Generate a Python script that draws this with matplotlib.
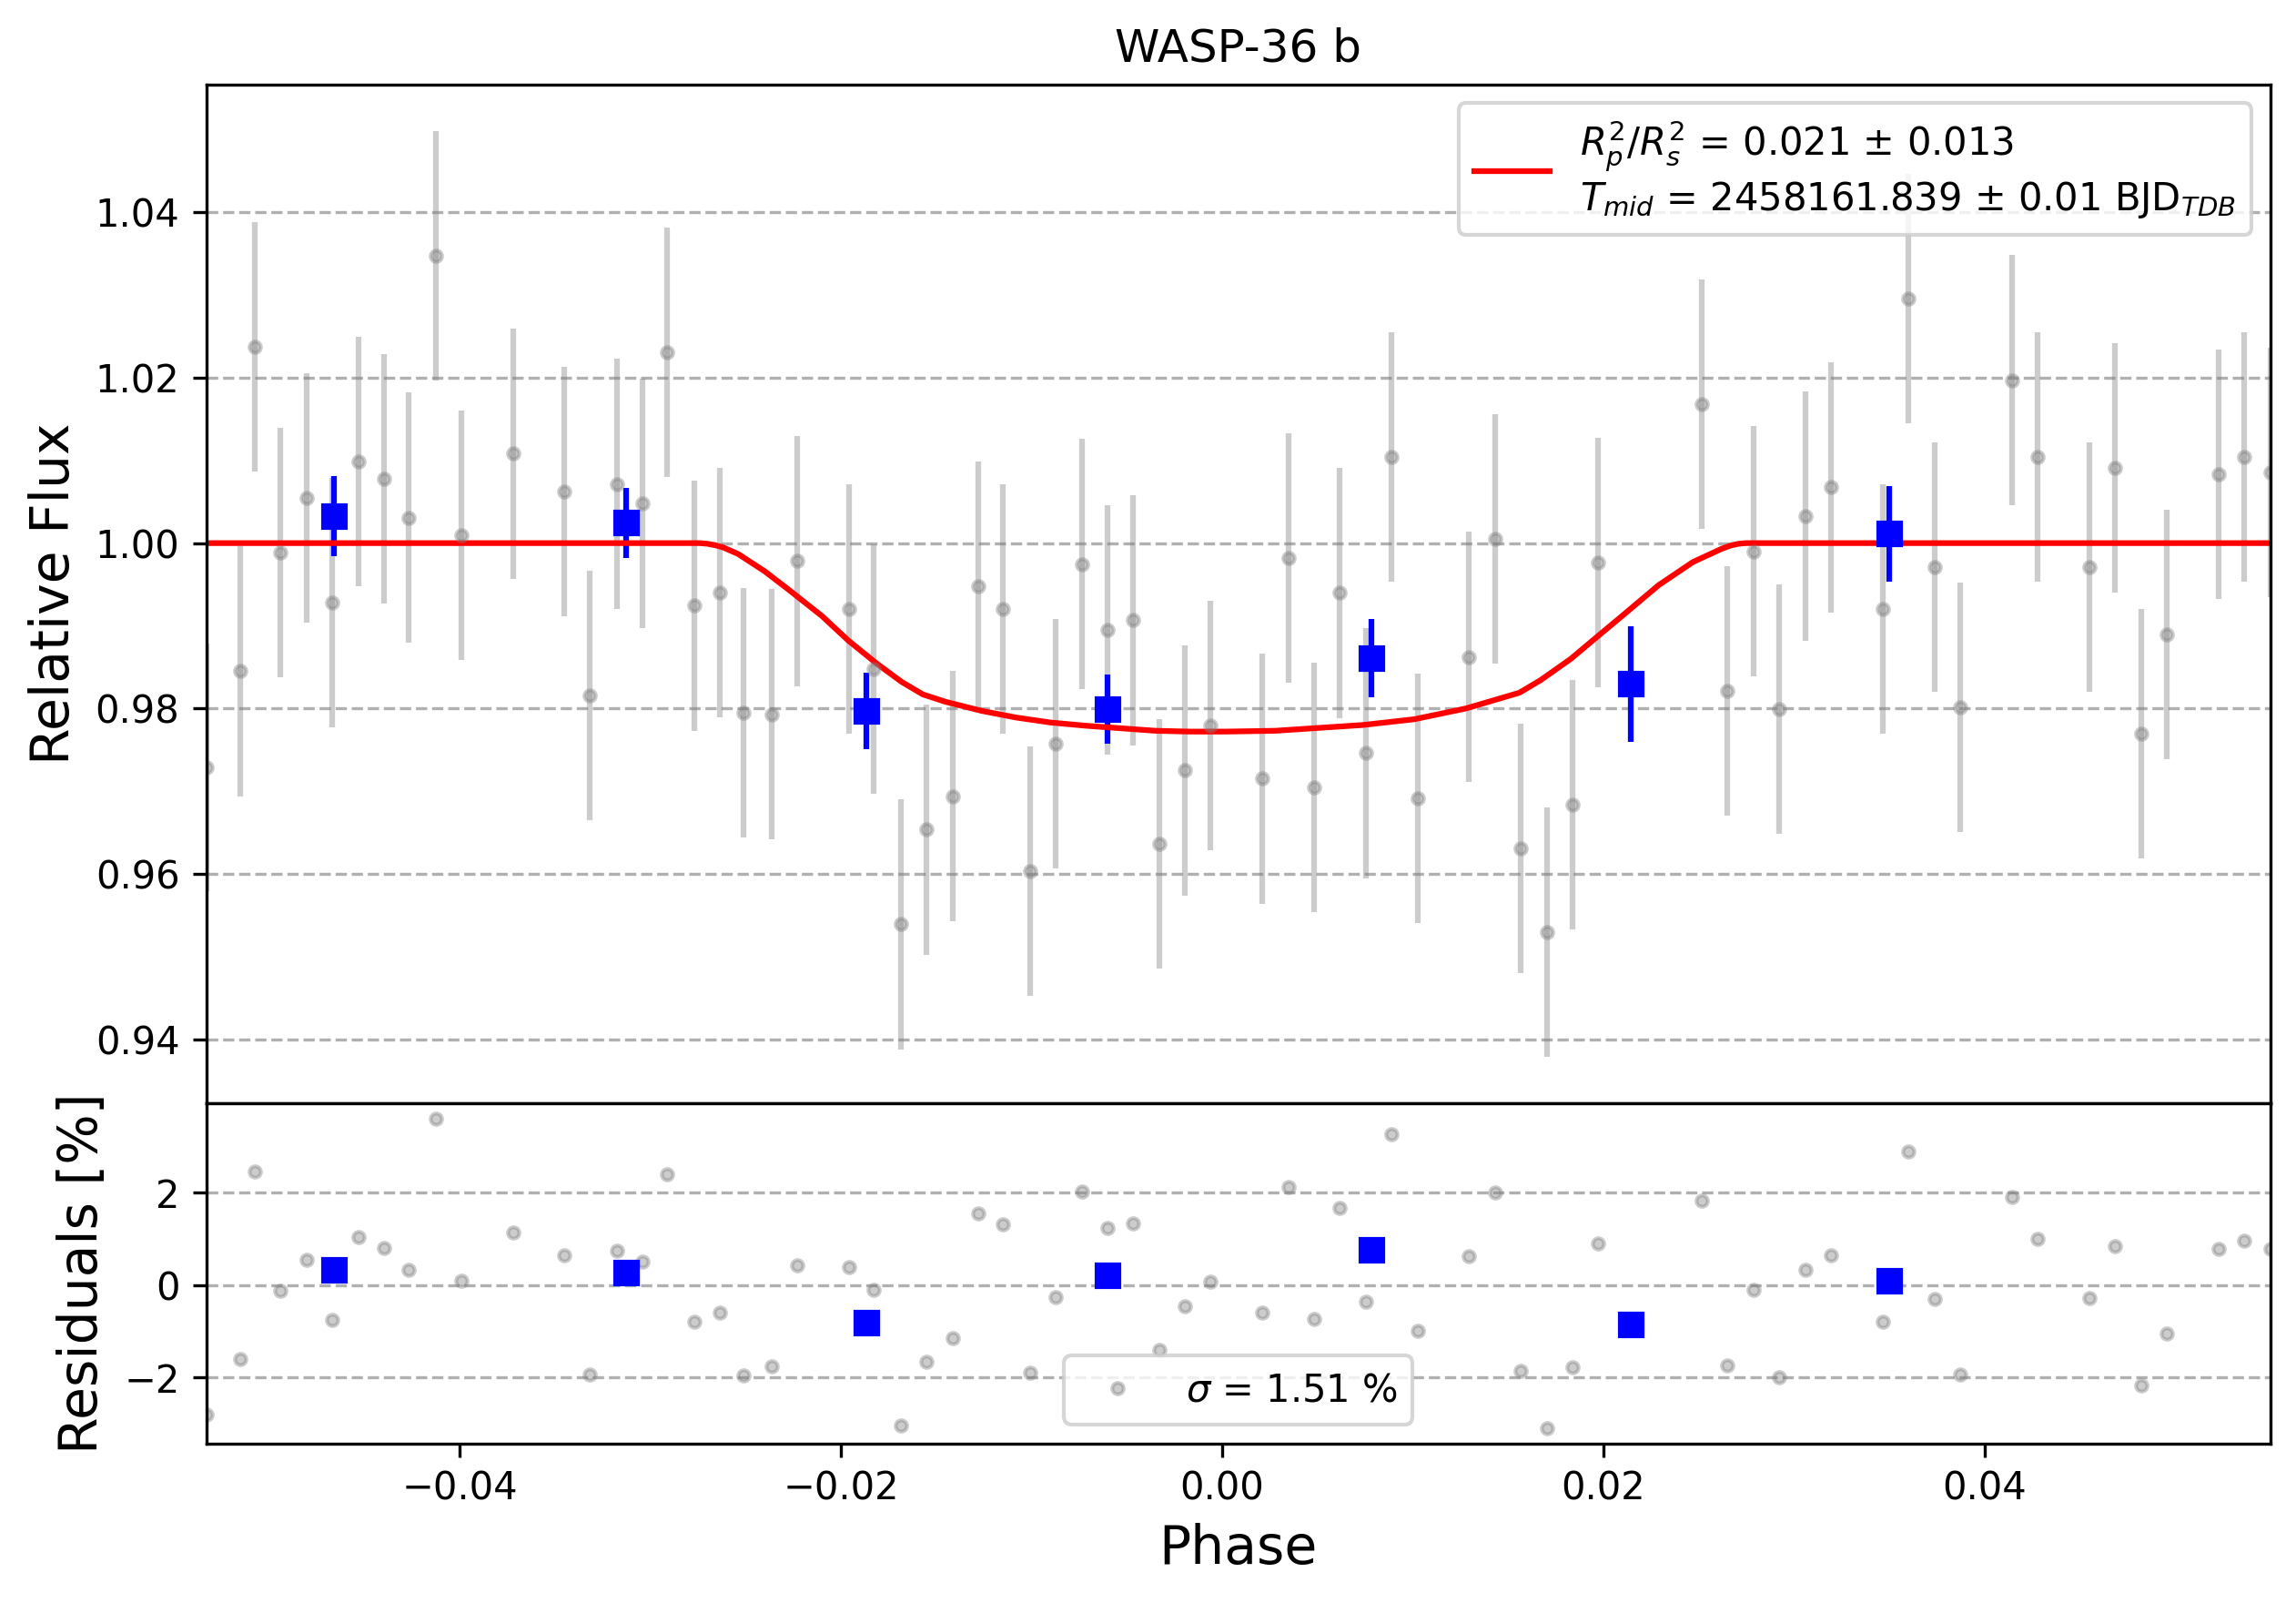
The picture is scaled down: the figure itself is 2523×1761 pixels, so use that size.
import matplotlib
matplotlib.use("Agg")
import matplotlib.pyplot as plt

# ---- data ----
phase = [-0.0533, -0.05153, -0.05076, -0.04943, -0.04804, -0.04671, -0.04532, -0.04398, -0.04266, -0.04126,
         -0.03992, -0.03720, -0.03450, -0.03316, -0.03176, -0.03042, -0.02911, -0.02770, -0.02637, -0.02509,
         -0.02365, -0.02230, -0.01957, -0.01826, -0.01687, -0.01553, -0.01415, -0.01281, -0.01148, -0.01009,
         -0.00875, -0.00736, -0.00601, -0.00468, -0.00330, -0.00195, -0.00062, 0.00211, 0.00349, 0.00482,
         0.00616, 0.00753, 0.00888, 0.01025, 0.01294, 0.01432, 0.01566, 0.01705, 0.01838, 0.01973,
         0.02516, 0.02649, 0.02788, 0.02922, 0.03063, 0.03194, 0.03467, 0.03601, 0.03739, 0.03872,
         0.04145, 0.04278, 0.04551, 0.04684, 0.04822, 0.04957, 0.05228, 0.05363, 0.0550]

flux = [0.9729, 0.98449, 1.02372, 0.99888, 1.00547, 0.99284, 1.00990, 1.00779, 1.00309, 1.03474,
        1.00098, 1.01081, 1.00625, 0.98154, 1.00716, 1.00484, 1.02309, 0.99242, 0.99403, 0.97944,
        0.97930, 0.99782, 0.99200, 0.98477, 0.95389, 0.96533, 0.96940, 0.99474, 0.99200, 0.96035,
        0.97572, 0.99747, 0.98954, 0.99067, 0.96365, 0.97249, 0.97796, 0.97151, 0.99818, 0.97045,
        0.99396, 0.97459, 1.01046, 0.96912, 0.98624, 1.00049, 0.96309, 0.95298, 0.96835, 0.99768,
        1.01684, 0.98210, 0.99902, 0.97993, 1.00323, 1.00674, 0.99200, 1.02962, 0.99712, 0.98014,
        1.01972, 1.01046, 0.99712, 1.00912, 0.97698, 0.98891, 1.00835, 1.01039, 1.00856]

flux_err = [0.0150, 0.0151, 0.0151, 0.0151, 0.0151, 0.0151, 0.0151, 0.0151, 0.0151, 0.0151,
            0.0151, 0.0151, 0.0151, 0.0151, 0.0151, 0.0151, 0.0151, 0.0151, 0.0151, 0.0151,
            0.0151, 0.0151, 0.0151, 0.0151, 0.0151, 0.0151, 0.0151, 0.0151, 0.0151, 0.0151,
            0.0151, 0.0151, 0.0151, 0.0151, 0.0151, 0.0151, 0.0151, 0.0151, 0.0151, 0.0151,
            0.0151, 0.0151, 0.0151, 0.0151, 0.0151, 0.0151, 0.0151, 0.0151, 0.0151, 0.0151,
            0.0151, 0.0151, 0.0151, 0.0151, 0.0151, 0.0151, 0.0151, 0.0151, 0.0151, 0.0151,
            0.0151, 0.0151, 0.0151, 0.0151, 0.0151, 0.0151, 0.0151, 0.0151, 0.0151]

residual = [-2.80, -1.61, 2.45, -0.12, 0.55, -0.75, 1.03, 0.81, 0.32, 3.60,
            0.10, 1.13, 0.65, -1.94, 0.74, 0.50, 2.39, -0.79, -0.59, -1.96,
            -1.76, 0.42, 0.38, -0.10, -3.04, -1.67, -1.16, 1.55, 1.31, -1.89,
            -0.27, 2.02, 1.23, 1.34, -1.40, -0.47, 0.07, -0.59, 2.12, -0.73,
            1.66, -0.36, 3.26, -0.99, 0.63, 2.00, -1.87, -3.10, -1.79, 0.90,
            1.82, -1.75, -0.10, -2.00, 0.32, 0.65, -0.79, 2.89, -0.30, -1.94,
            1.90, 0.99, -0.28, 0.85, -2.17, -1.05, 0.78, 0.96, 0.79]

bin_phase = [-0.04660, -0.03126, -0.01866, -0.00601, 0.00784, 0.02145, 0.03500]
bin_flux = [1.00323, 1.00246, 0.97965, 0.97993, 0.98610, 0.98295, 1.00112]
bin_err = [0.00484, 0.00421, 0.00463, 0.00414, 0.00474, 0.00695, 0.00579]
bin_residual = [0.32, 0.26, -0.81, 0.22, 0.77, -0.85, 0.10]

model_phase = [-0.0533, -0.0274, -0.0270, -0.0266, -0.0262, -0.0254, -0.0240, -0.0227, -0.0210, -0.0196,
               -0.0181, -0.0168, -0.0157, -0.0145, -0.0126, -0.0108, -0.0090, -0.0071, -0.0053, -0.0035,
               -0.0017, 0.0002, 0.0028, 0.0074, 0.0101, 0.0128, 0.0156, 0.0167, 0.0183, 0.0198,
               0.0211, 0.0229, 0.0247, 0.0262, 0.0267, 0.0271, 0.0275, 0.0550]
model_flux = [1.0, 1.0, 0.99992, 0.99975, 0.9995, 0.9987, 0.9966, 0.9943, 0.9912, 0.9882,
              0.9854, 0.9832, 0.9817, 0.9808, 0.9797, 0.9789, 0.9783, 0.9779, 0.9776, 0.9773,
              0.9772, 0.9772, 0.9773, 0.9780, 0.9787, 0.9800, 0.9819, 0.9834, 0.9860, 0.9889,
              0.9914, 0.9949, 0.9977, 0.9993, 0.99972, 0.99992, 1.0, 1.0]

flux_ticks = [0.94, 0.96, 0.98, 1.00, 1.02, 1.04]
resid_ticks = [-2, 0, 2]
phase_ticks = [-0.04, -0.02, 0.00, 0.02, 0.04]

model_label = (r"$R^{2}_{p}/R^{2}_{s}$ = 0.021 $\pm$ 0.013" + "\n"
               + r"$T_{mid}$ = 2458161.839 $\pm$ 0.01 BJD$_{TDB}$")
sigma_label = r"$\sigma$ = 1.51 %"

# ---- figure ----
fig = plt.figure(figsize=(2523 / 300, 1761 / 300), dpi=300)
gs = fig.add_gridspec(2, 1, height_ratios=[3, 1], hspace=0,
                      left=0.0898, right=0.9888, top=0.9474, bottom=0.0996)
ax = fig.add_subplot(gs[0])
ax2 = fig.add_subplot(gs[1], sharex=ax)

ax.errorbar(phase, flux, yerr=flux_err, ls="none", marker="o", color="gray",
            alpha=0.4, ms=3)
ax.errorbar(bin_phase, bin_flux, yerr=bin_err, ls="none", marker="s", color="blue", ms=6)
ax.plot(model_phase, model_flux, "r-", lw=1.5, label=model_label)

ax.set_title("WASP-36 b")
ax.set_ylabel("Relative Flux", fontsize=14)
ax.set_ylim(0.9322, 1.0555)
ax.set_yticks(flux_ticks)
ax.grid(True, ls="--", axis="y")
ax.tick_params(axis="x", bottom=False, labelbottom=False)
ax.legend(loc="upper right")

ax2.plot(phase, residual, "o", color="gray", alpha=0.4, ms=3, label=sigma_label)
ax2.plot(bin_phase, bin_residual, "s", color="blue", ms=6)
ax2.set_ylim(-3.43, 3.93)
ax2.set_yticks(resid_ticks)
ax2.set_xticks(phase_ticks)
ax2.set_xlim(phase[0], phase[-1])
ax2.grid(True, ls="--", axis="y")
ax2.set_ylabel("Residuals [%]", fontsize=14)
ax2.set_xlabel("Phase", fontsize=14)
ax2.legend(loc="lower center")

fig.savefig("out.png", dpi=300)
